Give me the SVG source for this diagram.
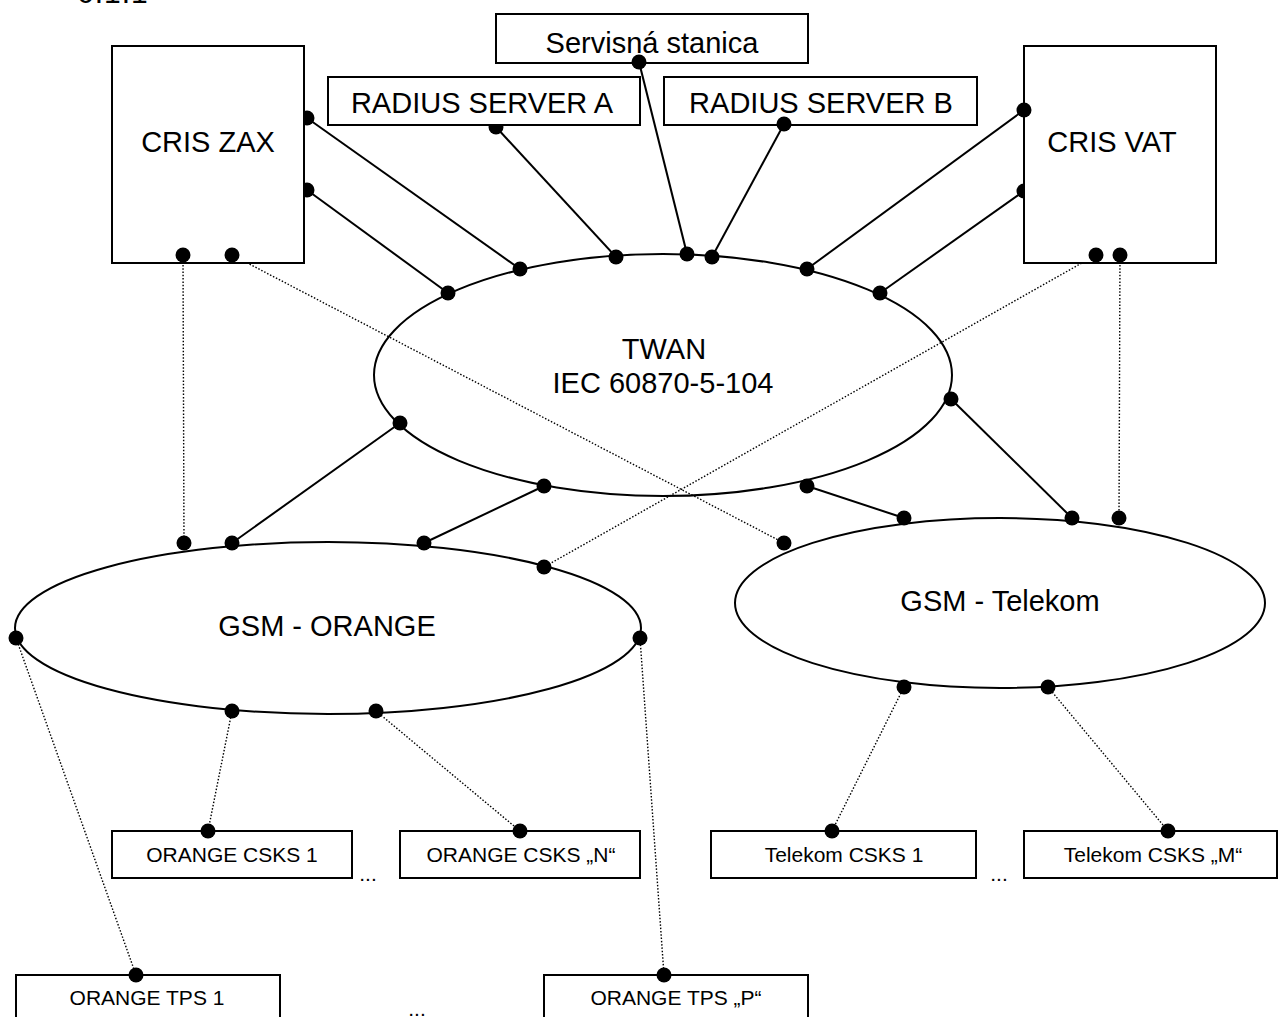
<svg xmlns="http://www.w3.org/2000/svg" width="1279" height="1017" viewBox="0 0 1279 1017">
<style>
text{font-family:"Liberation Sans",Arial,sans-serif;fill:#000}
.big{font-size:29px;text-anchor:middle}
.sm{font-size:21px;text-anchor:middle}
.box{fill:#fff;stroke:#000;stroke-width:2}
.ell{fill:none;stroke:#000;stroke-width:2}
.solid{stroke:#000;stroke-width:2;fill:none}
.dot{stroke:#000;stroke-width:1.4;stroke-dasharray:1.5 1.8;fill:none}
.port{fill:#000}
</style>
<rect width="1279" height="1017" fill="#fff"/>
<text x="77" y="2.5" style="font-size:30px;letter-spacing:1px">6.1.1</text>
<g id="connectors">
<line class="solid" x1="307" y1="118" x2="520" y2="269"/>
<line class="solid" x1="307" y1="190" x2="448" y2="293"/>
<line class="solid" x1="496" y1="127" x2="616" y2="257"/>
<line class="solid" x1="639" y1="62" x2="687" y2="254"/>
<line class="solid" x1="784" y1="124" x2="712" y2="257"/>
<line class="solid" x1="1024" y1="110" x2="807" y2="269"/>
<line class="solid" x1="1024" y1="191" x2="880" y2="293"/>
<line class="solid" x1="400" y1="423" x2="232" y2="543"/>
<line class="solid" x1="544" y1="486" x2="424" y2="543"/>
<line class="solid" x1="807" y1="486" x2="904" y2="518"/>
<line class="solid" x1="951" y1="399" x2="1072" y2="518"/>
<line class="dot" x1="183" y1="255" x2="184" y2="543"/>
<line class="dot" x1="232" y1="255" x2="784" y2="543"/>
<line class="dot" x1="1096" y1="255" x2="544" y2="567"/>
<line class="dot" x1="1120" y1="255" x2="1119" y2="518"/>
<line class="dot" x1="232" y1="711" x2="208" y2="831"/>
<line class="dot" x1="376" y1="711" x2="520" y2="831"/>
<line class="dot" x1="16" y1="638" x2="136" y2="975"/>
<line class="dot" x1="640" y1="638" x2="664" y2="975"/>
<line class="dot" x1="904" y1="687" x2="832" y2="831"/>
<line class="dot" x1="1048" y1="687" x2="1168" y2="831"/>
</g>
<g id="ports-under">
<circle class="port" cx="307" cy="118" r="7.5"/>
<circle class="port" cx="307" cy="190" r="7.5"/>
<circle class="port" cx="1024" cy="191" r="7.5"/>
<circle class="port" cx="496" cy="127" r="7.5"/>
</g>
<g id="cris-zax">
<rect class="box" x="112" y="46" width="192" height="217"/>
<text class="big" x="208" y="152">CRIS ZAX</text>
</g>
<g id="servisna-stanica">
<rect class="box" x="496" y="14" width="312" height="49"/>
<text class="big" x="652" y="53">Servisná stanica</text>
</g>
<g id="radius-a">
<rect class="box" x="328" y="77" width="312" height="48"/>
<text class="big" x="482" y="113">RADIUS SERVER A</text>
</g>
<g id="radius-b">
<rect class="box" x="664" y="77" width="313" height="48"/>
<text class="big" x="821" y="113">RADIUS SERVER B</text>
</g>
<g id="cris-vat">
<rect class="box" x="1024" y="46" width="192" height="217"/>
<text class="big" x="1112" y="152">CRIS VAT</text>
</g>
<g id="twan">
<ellipse class="ell" cx="663" cy="375" rx="289" ry="121"/>
<text class="big" x="664" y="359">TWAN</text>
<text class="big" x="663" y="393">IEC 60870-5-104</text>
</g>
<g id="gsm-orange">
<ellipse class="ell" cx="328" cy="628" rx="313" ry="86"/>
<text class="big" x="327" y="636">GSM - ORANGE</text>
</g>
<g id="gsm-telekom">
<ellipse class="ell" cx="1000" cy="603" rx="265" ry="85"/>
<text class="big" x="1000" y="611">GSM - Telekom</text>
</g>
<g id="orange-csks-1">
<rect class="box" x="112" y="831" width="240" height="47"/>
<text class="sm" x="232" y="862">ORANGE CSKS 1</text>
</g>
<g id="orange-csks-n">
<rect class="box" x="400" y="831" width="240" height="47"/>
<text class="sm" x="521" y="862">ORANGE CSKS „N“</text>
</g>
<g id="telekom-csks-1">
<rect class="box" x="711" y="831" width="265" height="47"/>
<text class="sm" x="844" y="862">Telekom CSKS 1</text>
</g>
<g id="telekom-csks-m">
<rect class="box" x="1024" y="831" width="253" height="47"/>
<text class="sm" x="1153" y="862">Telekom CSKS „M“</text>
</g>
<g id="orange-tps-1">
<rect class="box" x="16" y="975" width="264" height="50"/>
<text class="sm" x="147" y="1005">ORANGE TPS 1</text>
</g>
<g id="orange-tps-p">
<rect class="box" x="544" y="975" width="264" height="50"/>
<text class="sm" x="676" y="1005">ORANGE TPS „P“</text>
</g>
<g id="ellipses-marks">
<text class="sm" x="368" y="881">...</text>
<text class="sm" x="999" y="881">...</text>
<text class="sm" x="417" y="1016">...</text>
</g>
<g id="ports">
<circle class="port" cx="183" cy="255" r="7.5"/>
<circle class="port" cx="232" cy="255" r="7.5"/>
<circle class="port" cx="639" cy="62" r="7.5"/>
<circle class="port" cx="784" cy="124" r="7.5"/>
<circle class="port" cx="1024" cy="110" r="7.5"/>
<circle class="port" cx="1096" cy="255" r="7.5"/>
<circle class="port" cx="1120" cy="255" r="7.5"/>
<circle class="port" cx="448" cy="293" r="7.5"/>
<circle class="port" cx="520" cy="269" r="7.5"/>
<circle class="port" cx="616" cy="257" r="7.5"/>
<circle class="port" cx="687" cy="254" r="7.5"/>
<circle class="port" cx="712" cy="257" r="7.5"/>
<circle class="port" cx="807" cy="269" r="7.5"/>
<circle class="port" cx="880" cy="293" r="7.5"/>
<circle class="port" cx="400" cy="423" r="7.5"/>
<circle class="port" cx="544" cy="486" r="7.5"/>
<circle class="port" cx="807" cy="486" r="7.5"/>
<circle class="port" cx="951" cy="399" r="7.5"/>
<circle class="port" cx="184" cy="543" r="7.5"/>
<circle class="port" cx="232" cy="543" r="7.5"/>
<circle class="port" cx="424" cy="543" r="7.5"/>
<circle class="port" cx="544" cy="567" r="7.5"/>
<circle class="port" cx="16" cy="638" r="7.5"/>
<circle class="port" cx="640" cy="638" r="7.5"/>
<circle class="port" cx="232" cy="711" r="7.5"/>
<circle class="port" cx="376" cy="711" r="7.5"/>
<circle class="port" cx="784" cy="543" r="7.5"/>
<circle class="port" cx="904" cy="518" r="7.5"/>
<circle class="port" cx="1072" cy="518" r="7.5"/>
<circle class="port" cx="1119" cy="518" r="7.5"/>
<circle class="port" cx="904" cy="687" r="7.5"/>
<circle class="port" cx="1048" cy="687" r="7.5"/>
<circle class="port" cx="208" cy="831" r="7.5"/>
<circle class="port" cx="520" cy="831" r="7.5"/>
<circle class="port" cx="832" cy="831" r="7.5"/>
<circle class="port" cx="1168" cy="831" r="7.5"/>
<circle class="port" cx="136" cy="975" r="7.5"/>
<circle class="port" cx="664" cy="975" r="7.5"/>
</g>
</svg>
